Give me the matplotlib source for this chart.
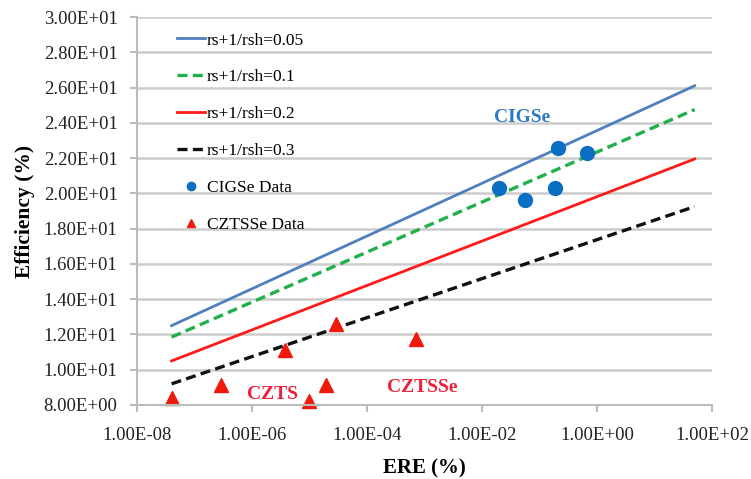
import matplotlib.pyplot as plt
from matplotlib.ticker import FixedLocator, FuncFormatter

# model lines: ERE endpoints and efficiencies at those endpoints
line_ere = [4e-8, 50]
line_labels = ['rs+1/rsh=0.05', 'rs+1/rsh=0.1', 'rs+1/rsh=0.2', 'rs+1/rsh=0.3']
line_eff = [
    [12.5, 26.1],
    [11.85, 24.75],
    [10.5, 21.95],
    [9.2, 19.25],
]

# measured data
cigse_ere = [0.02, 0.055, 0.19, 0.21, 0.68]
cigse_eff = [20.3, 19.6, 20.3, 22.6, 22.3]

czts_ere = [4e-8, 2.9e-7, 3.7e-6, 1.0e-5, 1.95e-5, 2.9e-5, 7.1e-4]
czts_eff = [8.38, 9.14, 11.1, 8.25, 9.14, 12.57, 11.77]

x_ticks = [1e-8, 1e-6, 1e-4, 1e-2, 1e0, 1e2]
y_ticks = [8, 10, 12, 14, 16, 18, 20, 22, 24, 26, 28, 30]

plt.rcParams['font.family'] = ['Liberation Serif', 'DejaVu Serif']

fig = plt.figure(figsize=(7.51, 4.79), dpi=100)
ax = fig.add_axes([0.1824, 0.1545, 0.7656, 0.81])

styles = [
    dict(color='#4F7FBD', linestyle='-', linewidth=2),
    dict(color='#22B04A', linestyle=(0, (3, 1.6)), linewidth=2.4),
    dict(color='#FF1A1A', linestyle='-', linewidth=2),
    dict(color='#111111', linestyle=(0, (3, 1.6)), linewidth=2.4),
]
for lbl, eff, st in zip(line_labels, line_eff, styles):
    ax.plot(line_ere, eff, label=lbl, **st)

ax.plot(cigse_ere, cigse_eff, 'o', color='#0A6FC2', markersize=10,
        linestyle='none', label='CIGSe Data', clip_on=False)
ax.plot(czts_ere, czts_eff, '^', color='#F01A0A', markersize=10,
        linestyle='none', label='CZTSSe Data', clip_on=False)

ax.text(0.05, 24.3, 'CIGSe', color='#2A78C8', fontsize=14, fontweight='bold',
        ha='center', va='center')
ax.text(2.3e-6, 8.6, 'CZTS', color='#F0203A', fontsize=14, fontweight='bold',
        ha='center', va='center')
ax.text(9e-4, 9.0, 'CZTSSe', color='#F0203A', fontsize=14, fontweight='bold',
        ha='center', va='center')

ax.set_xscale('log')
ax.set_xlim(1e-8, 1e2)
ax.set_ylim(8, 30)
ax.xaxis.set_major_locator(FixedLocator(x_ticks))
ax.xaxis.set_minor_locator(FixedLocator([]))
ax.xaxis.set_major_formatter(FuncFormatter(lambda v, p: '%.2E' % v))
ax.yaxis.set_major_locator(FixedLocator(y_ticks))
ax.yaxis.set_major_formatter(FuncFormatter(lambda v, p: '%.2E' % v))

ax.grid(axis='y', color='#CCCCCC', linewidth=1.8)
ax.set_axisbelow(True)
for s in ['top', 'right']:
    ax.spines[s].set_visible(False)
for s in ['left', 'bottom']:
    ax.spines[s].set_color('#BBBBBB')
    ax.spines[s].set_linewidth(1.5)
ax.tick_params(axis='both', colors='#BBBBBB', labelcolor='#222222',
               labelsize=13.5, length=5, width=1.5)
ax.tick_params(axis='x', pad=11)
ax.tick_params(axis='y', pad=9)

ax.set_xlabel('ERE (%)', fontsize=15, fontweight='bold', labelpad=10)
ax.set_ylabel('Efficiency (%)', fontsize=15.5, fontweight='bold', labelpad=6)

leg = ax.legend(loc='upper left', bbox_to_anchor=(0.047, 0.994), frameon=False,
                fontsize=12.5, handlelength=1.6, handletextpad=0.1,
                labelspacing=1.2, borderaxespad=0.35, markerscale=0.6)

fig.savefig('out.png', dpi=100)
